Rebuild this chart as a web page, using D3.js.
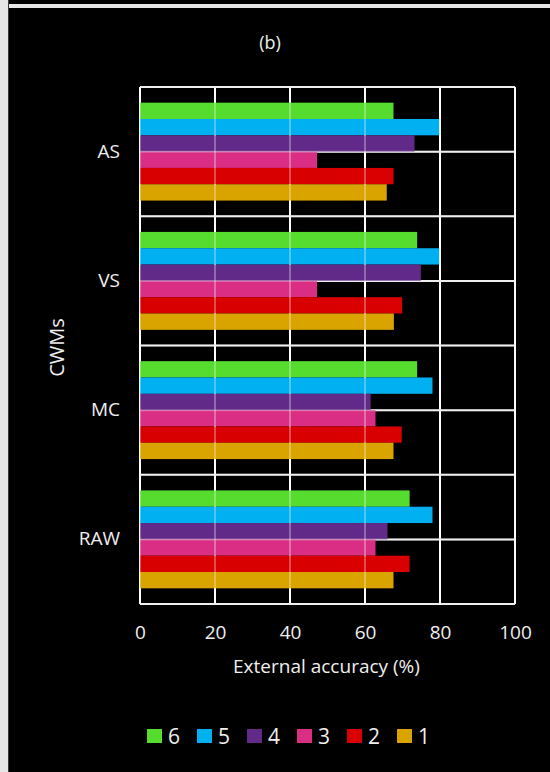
<!DOCTYPE html>
<html>
<head>
<meta charset="utf-8">
<script src="https://cdn.jsdelivr.net/npm/d3@7"></script>
<style>
  html, body { margin: 0; padding: 0; background: #000; }
  svg { display: block; }
  text { font-family: "Open Sans", sans-serif; fill: #efefef; }
</style>
</head>
<body>
<svg id="chart" width="550" height="772"></svg>
<script>
// Correction water models (top to bottom) and series keys (top to bottom within a group)
const categories = ["AS", "VS", "MC", "RAW"];
const seriesKeys = ["6", "5", "4", "3", "2", "1"];
const seriesColors = ["#56dc2e", "#00b0f0", "#612a88", "#da2e85", "#d80000", "#d9a400"];

// External accuracy (%) per series, in category order AS, VS, MC, RAW
const s6 = [67.6, 73.9, 73.9, 71.9];
const s5 = [79.8, 79.8, 78.0, 78.0];
const s4 = [73.2, 74.9, 61.5, 66.0];
const s3 = [47.2, 47.2, 62.8, 62.8];
const s2 = [67.6, 69.9, 69.8, 71.9];
const s1 = [65.8, 67.7, 67.6, 67.6];
const seriesValues = [s6, s5, s4, s3, s2, s1];

const xTicks = [0, 20, 40, 60, 80, 100];

const svg = d3.select("#chart");
const W = 550, H = 772;

// page frame
svg.append("rect").attr("x", 0).attr("y", 0).attr("width", W).attr("height", H).attr("fill", "#000");
svg.append("rect").attr("x", 0).attr("y", 0).attr("width", 8).attr("height", H).attr("fill", "#e6e6e6");
svg.append("rect").attr("x", 8).attr("y", 0).attr("width", 1).attr("height", H).attr("fill", "#3a3a3a");
svg.append("rect").attr("x", 9).attr("y", 4).attr("width", W - 9).attr("height", 4).attr("fill", "#e6e6e6");

const plot = { left: 140, right: 515, top: 87, bottom: 604 };

const x = d3.scaleLinear().domain([0, 100]).range([plot.left, plot.right]);
const y0 = d3.scaleBand().domain(categories).range([plot.top, plot.bottom]).padding(0);
const y1 = d3.scaleBand().domain(seriesKeys).range([0, y0.bandwidth()]).paddingInner(0).paddingOuter(0.96);

const rows = [];
categories.forEach((c, ci) => {
  seriesKeys.forEach((k, si) => {
    rows.push({ cat: c, key: k, value: seriesValues[si][ci], color: seriesColors[si] });
  });
});

// horizontal grid: group boundaries and group centres
const hLines = [];
categories.forEach(c => {
  hLines.push(y0(c));
  hLines.push(y0(c) + y0.bandwidth() / 2);
});
hLines.push(plot.bottom);

function drawGrid(g, opacity) {
  g.selectAll("line.v").data(xTicks).join("line")
    .attr("class", "v")
    .attr("x1", d => x(d)).attr("x2", d => x(d))
    .attr("y1", plot.top).attr("y2", plot.bottom)
    .attr("stroke", "#ffffff").attr("stroke-width", 2).attr("opacity", opacity);
  g.selectAll("line.h").data(hLines).join("line")
    .attr("class", "h")
    .attr("x1", plot.left).attr("x2", plot.right)
    .attr("y1", d => d).attr("y2", d => d)
    .attr("stroke", "#eeeeee").attr("stroke-width", 2).attr("opacity", opacity);
}

drawGrid(svg.append("g"), 1);

// bars
svg.append("g").selectAll("rect").data(rows).join("rect")
  .attr("x", x(0))
  .attr("y", d => y0(d.cat) + y1(d.key))
  .attr("width", d => x(d.value) - x(0))
  .attr("height", y1.bandwidth())
  .attr("fill", d => d.color);

// grid showing faintly through the bars
drawGrid(svg.append("g"), 0.3);

// x axis tick labels
const xAxis = d3.axisBottom(x).tickValues(xTicks).tickSize(0).tickPadding(0);
const gx = svg.append("g").attr("transform", `translate(0,${plot.bottom + 21})`).call(xAxis);
gx.select(".domain").remove();
gx.selectAll("text").attr("font-size", 19).attr("fill", "#efefef").attr("font-family", "Open Sans, sans-serif");

// y axis category labels
const yAxis = d3.axisLeft(y0).tickSize(0).tickPadding(20);
const gy = svg.append("g").attr("transform", `translate(${plot.left},0)`).call(yAxis);
gy.select(".domain").remove();
gy.selectAll("text").attr("font-size", 19).attr("fill", "#efefef").attr("font-family", "Open Sans, sans-serif");

// titles
svg.append("text").attr("x", 270).attr("y", 49).attr("text-anchor", "middle")
  .attr("font-size", 18).text("(b)");
svg.append("text").attr("x", (plot.left + plot.right) / 2 - 1).attr("y", 673)
  .attr("text-anchor", "middle").attr("font-size", 19).text("External accuracy (%)");
svg.append("text").attr("transform", `translate(64,${(plot.top + plot.bottom) / 2 + 2}) rotate(-90)`)
  .attr("text-anchor", "middle").attr("font-size", 20).text("CWMs");

// legend
const legend = svg.append("g").attr("transform", "translate(147,729)");
const item = legend.selectAll("g").data(seriesKeys).join("g")
  .attr("transform", (d, i) => `translate(${i * 50},0)`);
item.append("rect").attr("width", 15).attr("height", 14)
  .attr("fill", (d, i) => seriesColors[i]);
item.append("text").attr("x", 21).attr("y", 14.5).attr("font-size", 21).text(d => d);
</script>
</body>
</html>
